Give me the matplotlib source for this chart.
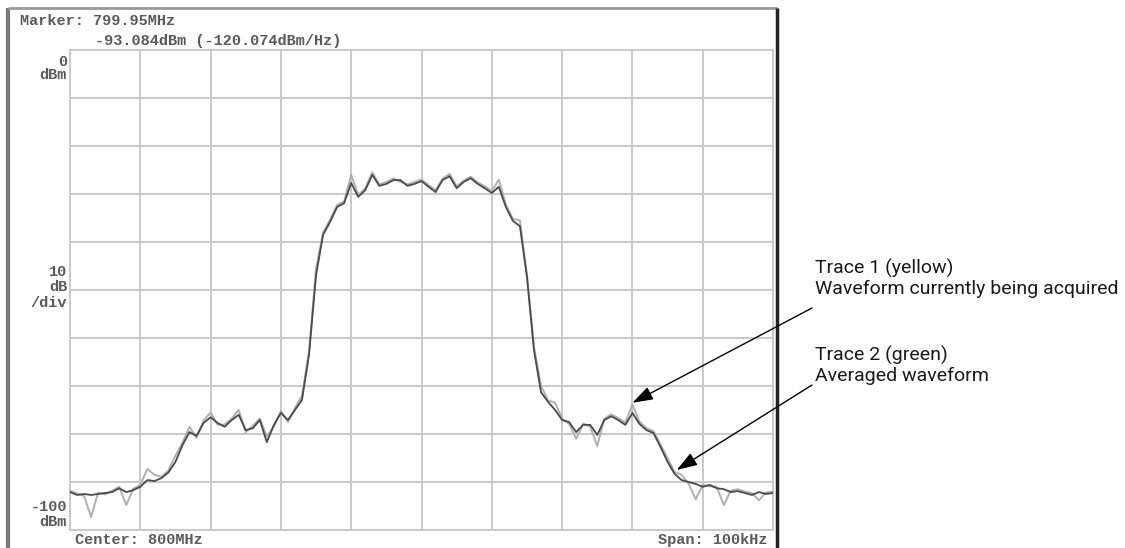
import matplotlib
matplotlib.use("Agg")
import matplotlib.pyplot as plt
import numpy as np

# ---- data (offset from center frequency, kHz; level, dBm) ----
freq_offset_khz = list(range(-50, 51))

trace2_avg = [
    -92.1, -92.7, -92.5, -92.7, -92.5, -92.3, -92.1, -91.3, -92.1, -91.7,
    -91.0, -89.6, -89.8, -89.2, -88.0, -85.8, -82.3, -79.6, -80.4, -77.7,
    -76.5, -77.7, -78.5, -77.1, -76.0, -79.2, -78.8, -77.1, -81.7, -78.1,
    -75.6, -77.1, -75.0, -72.9, -63.5, -46.9, -38.5, -35.8, -32.7, -31.9,
    -27.7, -30.6, -29.2, -26.0, -28.3, -27.9, -27.1, -27.1, -28.3, -27.9,
    -27.3, -28.5, -29.6, -27.1, -26.3, -28.8, -27.5, -26.7, -27.9, -28.8,
    -29.8, -28.5, -32.7, -35.6, -36.7, -47.3, -62.5, -71.3, -73.3, -75.0,
    -77.1, -77.5, -79.6, -78.1, -78.1, -80.2, -77.1, -76.3, -77.1, -78.1,
    -75.6, -77.9, -79.2, -79.8, -82.7, -85.8, -88.3, -89.6, -90.0, -90.4,
    -91.0, -90.6, -91.3, -91.5, -92.1, -91.9, -92.3, -92.7, -92.1, -92.5,
    -92.3,
]

trace1_live = [
    -91.8, -92.4, -92.9, -97.3, -92.2, -92.6, -91.8, -91.0, -94.8, -91.4,
    -90.6, -87.3, -88.5, -88.9, -87.6, -84.5, -81.8, -78.5, -80.8, -77.2,
    -75.5, -78.1, -78.0, -76.8, -75.0, -79.6, -78.3, -76.8, -80.5, -78.5,
    -75.2, -77.5, -74.6, -72.0, -62.8, -45.5, -38.0, -35.3, -32.3, -31.5,
    -26.0, -30.2, -28.8, -25.5, -28.0, -27.5, -26.8, -27.5, -28.0, -27.5,
    -27.0, -28.1, -29.2, -26.8, -25.8, -28.4, -27.2, -26.4, -27.6, -28.4,
    -29.4, -27.0, -32.2, -35.2, -35.5, -46.8, -61.8, -70.0, -73.0, -73.5,
    -76.8, -77.9, -81.0, -77.8, -78.5, -82.5, -76.8, -75.9, -76.7, -77.6,
    -73.8, -77.4, -78.8, -79.4, -82.2, -85.0, -87.9, -88.5, -90.4, -93.6,
    -90.6, -90.9, -91.0, -94.8, -91.8, -91.5, -92.0, -92.3, -93.8, -92.2,
    -92.0,
]

x_grid = list(range(-50, 51, 10))
y_grid = list(range(-100, 1, 10))

marker_line1 = "Marker: 799.95MHz"
marker_line2 = "-93.084dBm (-120.074dBm/Hz)"
center_label = "Center: 800MHz"
span_label = "Span: 100kHz"

W, H = 1125, 548
fig = plt.figure(figsize=(W / 100, H / 100), dpi=100)
fig.patch.set_facecolor("white")

# overlay axes in pixel coordinates
ov = fig.add_axes([0, 0, 1, 1])
ov.set_xlim(0, W)
ov.set_ylim(H, 0)
ov.axis("off")

# main plot axes
L, R, T, B = 70, 773, 50, 530
ax = fig.add_axes([L / W, (H - B) / H, (R - L) / W, (B - T) / H])
ax.set_xlim(-50, 50)
ax.set_ylim(-100, 0)
ax.set_facecolor("none")
gc = "#c9c9c9"
for v in x_grid[1:-1]:
    ax.axvline(v, color=gc, lw=1.4, zorder=1)
for v in y_grid[1:-1]:
    ax.axhline(v, color=gc, lw=1.4, zorder=1)
for s in ax.spines.values():
    s.set_color(gc)
    s.set_linewidth(1.4)
ax.set_xticks([])
ax.set_yticks([])

ax.plot(freq_offset_khz, trace1_live, color="#b0b0b0", lw=1.4, zorder=3)
ax.plot(freq_offset_khz, trace2_avg, color="#4a4a4a", lw=1.3, zorder=4)

# instrument frame
ov.plot([8, 8], [8, H], color="#777777", lw=3, solid_capstyle="butt")
ov.plot([8, 777], [8, 8], color="#9a9a9a", lw=2, solid_capstyle="butt")
ov.plot([777, 777], [8, H], color="#222222", lw=2.5, solid_capstyle="butt")

mono = dict(family=["Liberation Mono", "DejaVu Sans Mono"], fontsize=11,
            color="#5a5a5a", fontweight="bold")
ov.text(20, 21, marker_line1, va="center", ha="left", **mono)
ov.text(95, 41, marker_line2, va="center", ha="left", **mono)
ov.text(75, 540, center_label, va="center", ha="left", **mono)
ov.text(767, 540, span_label, va="center", ha="right", **mono)

for txt, yy in [("0", 62), ("dBm", 75), ("10", 272), ("dB", 287), ("/div", 303),
                ("-100", 507), ("dBm", 522)]:
    ov.text(67, yy, txt, va="center", ha="right", **mono)

# annotations
sans = dict(family=["Roboto", "DejaVu Sans"], fontsize=14,
            color="#1a1a1a")
ov.text(815, 268, "Trace 1 (yellow)", va="center", ha="left", **sans)
ov.text(815, 289, "Waveform currently being acquired", va="center", ha="left", **sans)
ov.text(815, 355, "Trace 2 (green)", va="center", ha="left", **sans)
ov.text(815, 376, "Averaged waveform", va="center", ha="left", **sans)

aprops = dict(arrowstyle="-|>,head_length=0.9,head_width=0.3", lw=1.0,
              color="black", shrinkA=0, shrinkB=0, mutation_scale=14)
ax.annotate("", xy=(30, -73.5), xycoords="data", xytext=(812, 308),
            textcoords=ov.transData, arrowprops=aprops, annotation_clip=False)
ax.annotate("", xy=(36.3, -87.5), xycoords="data", xytext=(812, 385),
            textcoords=ov.transData, arrowprops=aprops, annotation_clip=False)

fig.savefig("out.png", dpi=100, facecolor="white")
